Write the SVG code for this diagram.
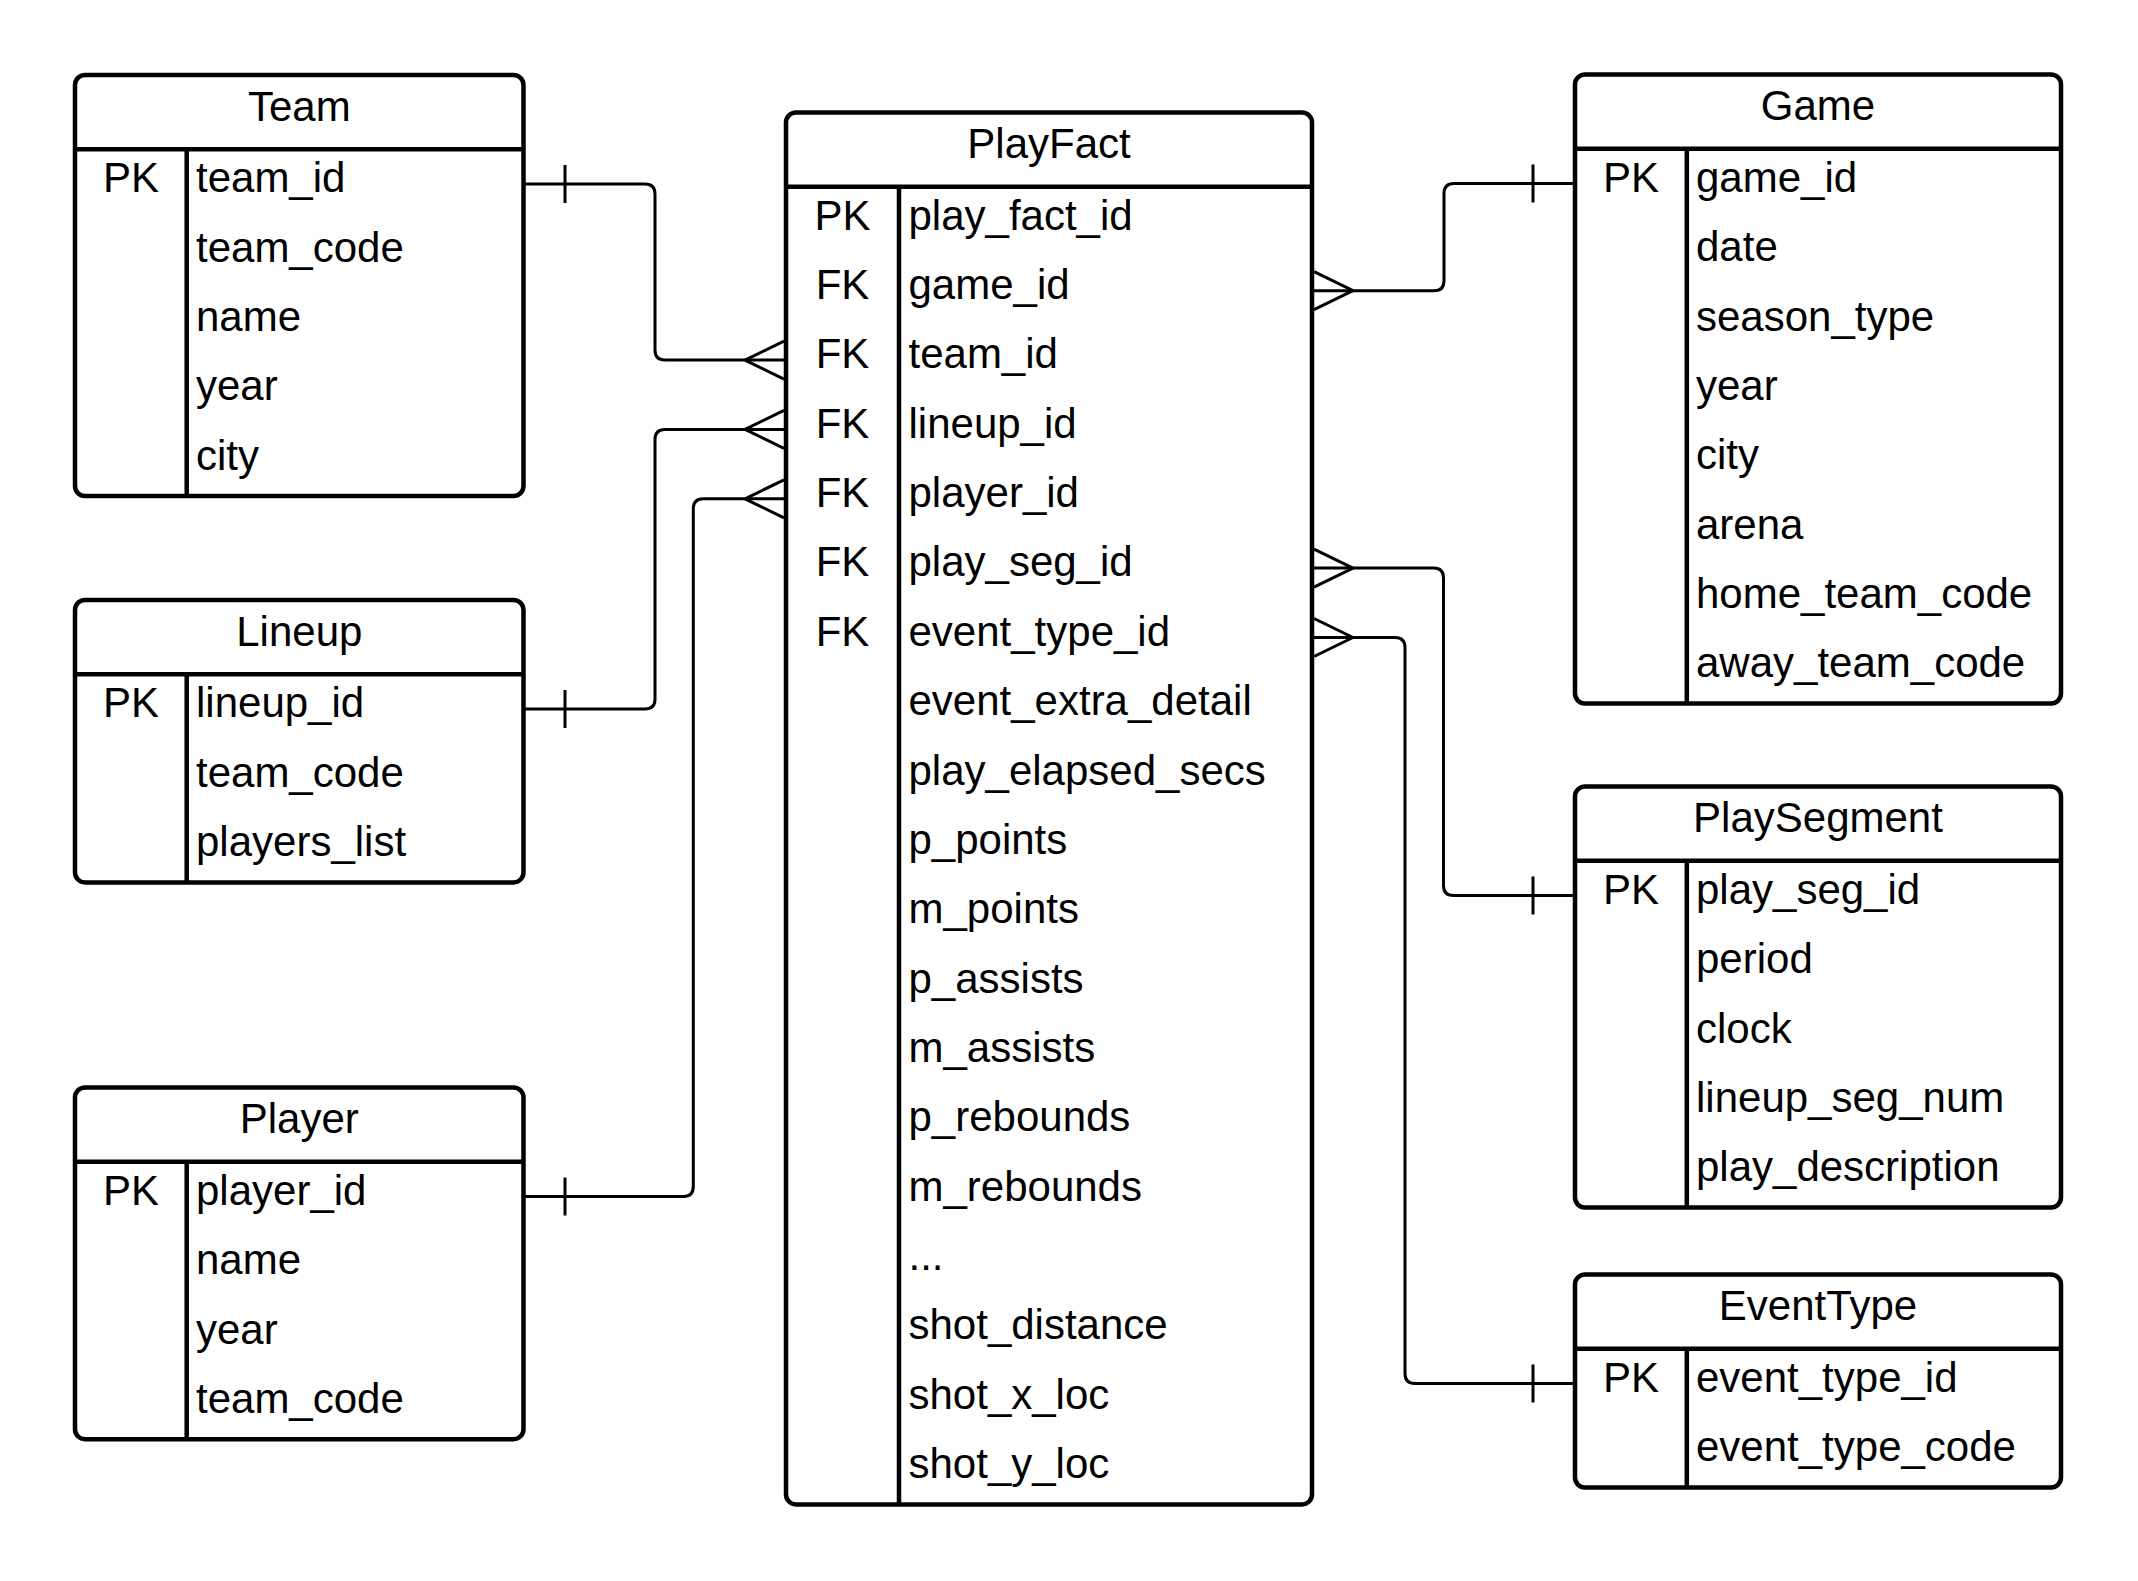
<svg xmlns="http://www.w3.org/2000/svg" width="2138" height="1581" viewBox="0 0 2138 1581">
<style>
.box{fill:#fff;stroke:#000;stroke-width:4.5}
.ln{stroke:#000;stroke-width:4.5;fill:none}
.t{font-family:"Liberation Sans",Arial,sans-serif;font-size:42px;fill:#000}
.c{text-anchor:middle}
.con{stroke:#000;stroke-width:3;fill:none}
</style>
<rect width="2138" height="1581" fill="#fff"/>
<g id="connectors">
<path class="con" d="M525,184 H645 Q655,184 655,194 V350.1 Q655,360.1 665,360.1 H784"/>
<path class="con" d="M565,165 V203 M745,360.1 L784,341.1 M745,360.1 L784,379.1"/>
<path class="con" d="M525,709 H645 Q655,709 655,699 V439.4 Q655,429.4 665,429.4 H784"/>
<path class="con" d="M565,690 V728 M745,429.4 L784,410.4 M745,429.4 L784,448.4"/>
<path class="con" d="M525,1196.5 H683.3 Q693.3,1196.5 693.3,1186.5 V508.8 Q693.3,498.8 703.3,498.8 H784"/>
<path class="con" d="M565,1177.5 V1215.5 M745,498.8 L784,479.8 M745,498.8 L784,517.8"/>
<path class="con" d="M1314,290.7 H1434 Q1444,290.7 1444,280.7 V193.5 Q1444,183.5 1454,183.5 H1573"/>
<path class="con" d="M1533,164.5 V202.5 M1353,290.7 L1314,271.7 M1353,290.7 L1314,309.7"/>
<path class="con" d="M1314,568.1 H1433.5 Q1443.5,568.1 1443.5,578.1 V885.5 Q1443.5,895.5 1453.5,895.5 H1573"/>
<path class="con" d="M1533,876.5 V914.5 M1353,568.1 L1314,549.1 M1353,568.1 L1314,587.1"/>
<path class="con" d="M1314,637.5 H1395 Q1405,637.5 1405,647.5 V1373.5 Q1405,1383.5 1415,1383.5 H1573"/>
<path class="con" d="M1533,1364.5 V1402.5 M1353,637.5 L1314,618.5 M1353,637.5 L1314,656.5"/>
</g>
<g id="Team">
<rect class="box" x="75" y="75" width="448.5" height="421" rx="10"/>
<path class="ln" d="M75,149.3 H523.5 M186.7,149.3 V496"/>
<text class="t c" x="299.3" y="120.5">Team</text>
<text class="t c" x="130.9" y="192.3">PK</text>
<text class="t" x="196" y="192.3">team_id</text>
<text class="t" x="196" y="261.6">team_code</text>
<text class="t" x="196" y="331">name</text>
<text class="t" x="196" y="400.3">year</text>
<text class="t" x="196" y="469.7">city</text>
</g>
<g id="Lineup">
<rect class="box" x="75" y="600" width="448.5" height="282.4" rx="10"/>
<path class="ln" d="M75,674.3 H523.5 M186.7,674.3 V882.4"/>
<text class="t c" x="299.3" y="645.5">Lineup</text>
<text class="t c" x="130.9" y="717.3">PK</text>
<text class="t" x="196" y="717.3">lineup_id</text>
<text class="t" x="196" y="786.6">team_code</text>
<text class="t" x="196" y="856">players_list</text>
</g>
<g id="Player">
<rect class="box" x="75" y="1087.5" width="448.5" height="351.7" rx="10"/>
<path class="ln" d="M75,1161.8 H523.5 M186.7,1161.8 V1439.2"/>
<text class="t c" x="299.3" y="1133">Player</text>
<text class="t c" x="130.9" y="1204.8">PK</text>
<text class="t" x="196" y="1204.8">player_id</text>
<text class="t" x="196" y="1274.1">name</text>
<text class="t" x="196" y="1343.5">year</text>
<text class="t" x="196" y="1412.8">team_code</text>
</g>
<g id="PlayFact">
<rect class="box" x="786" y="112.4" width="526" height="1392" rx="10"/>
<path class="ln" d="M786,186.7 H1312 M899,186.7 V1504.4"/>
<text class="t c" x="1049" y="157.5">PlayFact</text>
<text class="t c" x="842.5" y="229.7">PK</text>
<text class="t c" x="842.5" y="299">FK</text>
<text class="t c" x="842.5" y="368.4">FK</text>
<text class="t c" x="842.5" y="437.7">FK</text>
<text class="t c" x="842.5" y="507.1">FK</text>
<text class="t c" x="842.5" y="576.4">FK</text>
<text class="t c" x="842.5" y="645.8">FK</text>
<text class="t" x="908.5" y="229.7">play_fact_id</text>
<text class="t" x="908.5" y="299">game_id</text>
<text class="t" x="908.5" y="368.4">team_id</text>
<text class="t" x="908.5" y="437.7">lineup_id</text>
<text class="t" x="908.5" y="507.1">player_id</text>
<text class="t" x="908.5" y="576.4">play_seg_id</text>
<text class="t" x="908.5" y="645.8">event_type_id</text>
<text class="t" x="908.5" y="715.1">event_extra_detail</text>
<text class="t" x="908.5" y="784.5">play_elapsed_secs</text>
<text class="t" x="908.5" y="853.8">p_points</text>
<text class="t" x="908.5" y="923.2">m_points</text>
<text class="t" x="908.5" y="992.5">p_assists</text>
<text class="t" x="908.5" y="1061.9">m_assists</text>
<text class="t" x="908.5" y="1131.2">p_rebounds</text>
<text class="t" x="908.5" y="1200.6">m_rebounds</text>
<text class="t" x="908.5" y="1269.9">...</text>
<text class="t" x="908.5" y="1339.3">shot_distance</text>
<text class="t" x="908.5" y="1408.6">shot_x_loc</text>
<text class="t" x="908.5" y="1478">shot_y_loc</text>
</g>
<g id="Game">
<rect class="box" x="1575" y="74.5" width="486" height="629.1" rx="10"/>
<path class="ln" d="M1575,148.8 H2061 M1686.8,148.8 V703.6"/>
<text class="t c" x="1818" y="119.5">Game</text>
<text class="t c" x="1630.9" y="191.8">PK</text>
<text class="t" x="1696" y="191.8">game_id</text>
<text class="t" x="1696" y="261.1">date</text>
<text class="t" x="1696" y="330.5">season_type</text>
<text class="t" x="1696" y="399.8">year</text>
<text class="t" x="1696" y="469.2">city</text>
<text class="t" x="1696" y="538.5">arena</text>
<text class="t" x="1696" y="607.9">home_team_code</text>
<text class="t" x="1696" y="677.2">away_team_code</text>
</g>
<g id="PlaySegment">
<rect class="box" x="1575" y="786.5" width="486" height="421.1" rx="10"/>
<path class="ln" d="M1575,860.8 H2061 M1686.8,860.8 V1207.6"/>
<text class="t c" x="1818" y="831.5">PlaySegment</text>
<text class="t c" x="1630.9" y="903.8">PK</text>
<text class="t" x="1696" y="903.8">play_seg_id</text>
<text class="t" x="1696" y="973.1">period</text>
<text class="t" x="1696" y="1042.5">clock</text>
<text class="t" x="1696" y="1111.8">lineup_seg_num</text>
<text class="t" x="1696" y="1181.2">play_description</text>
</g>
<g id="EventType">
<rect class="box" x="1575" y="1274.5" width="486" height="213" rx="10"/>
<path class="ln" d="M1575,1348.8 H2061 M1686.8,1348.8 V1487.5"/>
<text class="t c" x="1818" y="1319.5">EventType</text>
<text class="t c" x="1630.9" y="1391.8">PK</text>
<text class="t" x="1696" y="1391.8">event_type_id</text>
<text class="t" x="1696" y="1461.1">event_type_code</text>
</g>
</svg>
